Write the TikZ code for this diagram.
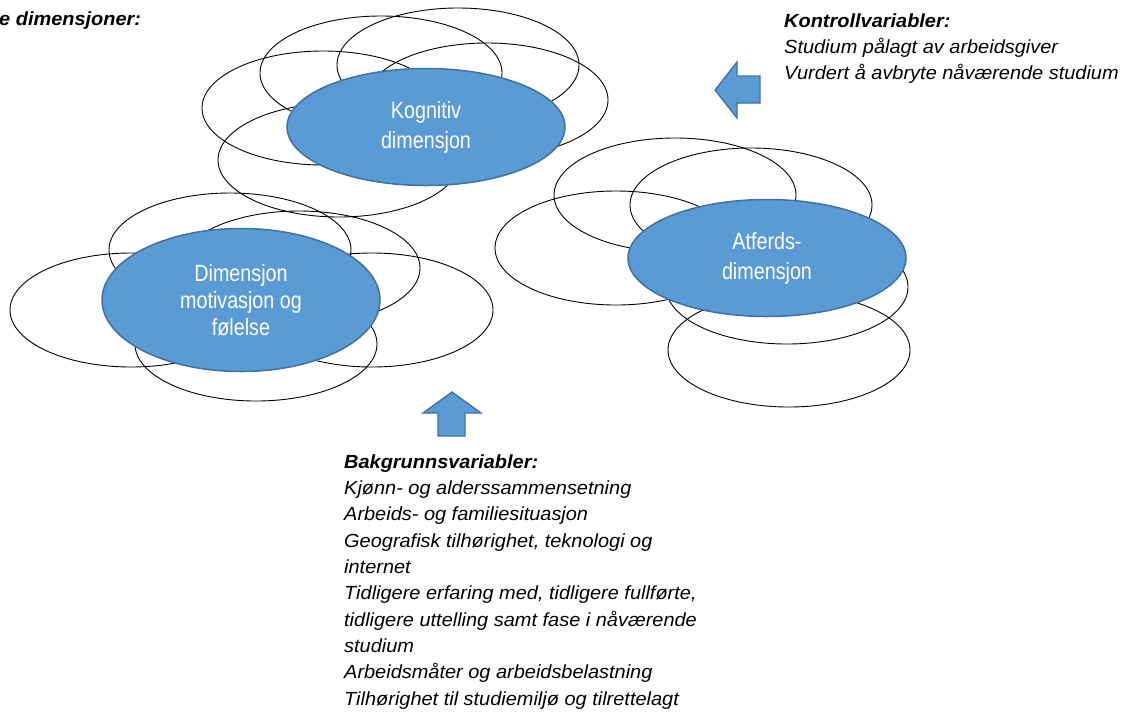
\documentclass[tikz,border=0pt]{standalone}
\usepackage{fontspec}
\setmainfont{Liberation Sans}[FakeStretch=1.05]
\newfontfamily\ovalfont{Liberation Sans}[FakeStretch=0.84]
\usetikzlibrary{shapes.geometric}

\definecolor{ovalblue}{HTML}{5B9BD5}
\definecolor{ovaledge}{HTML}{41719C}

\begin{document}
\begin{tikzpicture}[x=1pt, y=-1pt,
        ring/.style={draw=black, line width=0.9pt},
        dim/.style={ellipse, draw=ovaledge, line width=1.5pt, fill=ovalblue, text=white, inner sep=0pt, minimum width=278pt, minimum height=117pt, align=center, font=\ovalfont\fontsize{23.5}{30}\selectfont},
        varlist/.style={anchor=north west, align=left, inner sep=0pt, font=\itshape\fontsize{19}{26.3}\selectfont},
        fatarrow/.style={draw=ovaledge, line width=1.3pt, fill=ovalblue, line join=miter}
    ]
        \useasboundingbox (0,0) rectangle (1125,724);

        \node[anchor=base west, inner sep=0pt, font=\bfseries\itshape\fontsize{19}{26.3}\selectfont] (title) at (-1,25) {e dimensjoner:};

        % outline rings behind the three dimensions
        \foreach \cx/\cy in {381/73, 458/65, 323/108, 487/100, 339/160,
                             230/250, 299/268, 131/310, 372/310, 256/344,
                             675/195, 751/205, 616/248, 787/287, 789/350}
            \draw[ring] (\cx,\cy) ellipse [x radius=121pt, y radius=57pt];

        \node[dim] (kognitiv) at (426,127) {Kognitiv\\dimensjon};
        \node[dim, minimum height=143pt, font=\ovalfont\fontsize{23.5}{27}\selectfont] (motivasjon) at (241,300) {Dimensjon\\motivasjon og\\følelse};
        \node[dim] (atferd) at (767,258) {Atferds-\\dimensjon};

        \draw[fatarrow] (715,90) -- (737,62) -- (737,76) -- (760,76) -- (760,103) -- (737,103) -- (737,118) -- cycle;
        \draw[fatarrow] (452,392) -- (481,413) -- (465,413) -- (465,436) -- (438,436) -- (438,413) -- (423,413) -- cycle;

        \node[varlist] (kontroll) at (784,13.1) {\textbf{Kontrollvariabler:}\\Studium pålagt av arbeidsgiver\\Vurdert å avbryte nåværende studium};
        \node[varlist] (bakgrunn) at (344,454.4) {\textbf{Bakgrunnsvariabler:}\\Kjønn- og alderssammensetning\\Arbeids- og familiesituasjon\\Geografisk tilhørighet, teknologi og\\internet\\Tidligere erfaring med, tidligere fullførte,\\tidligere uttelling samt fase i nåværende\\studium\\Arbeidsmåter og arbeidsbelastning\\Tilhørighet til studiemiljø og tilrettelagt};
    \end{tikzpicture}
\end{document}
